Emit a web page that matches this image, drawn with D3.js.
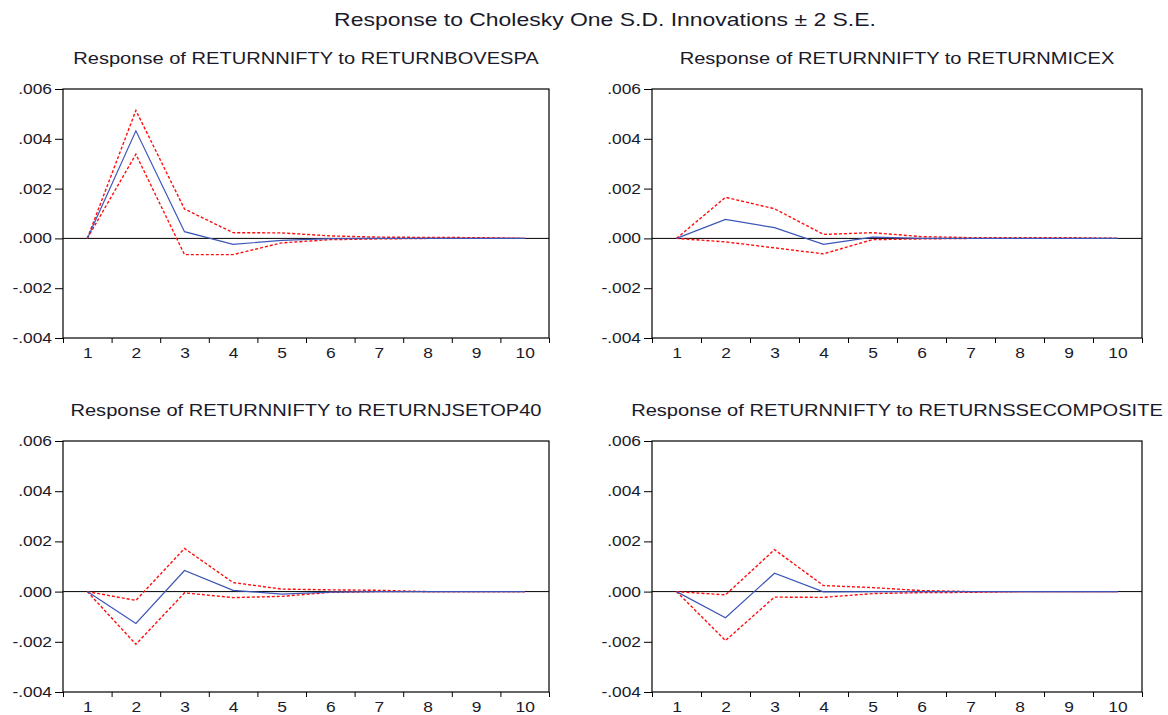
<!DOCTYPE html>
<html>
<head>
<meta charset="utf-8">
<script src="https://cdn.jsdelivr.net/npm/d3@7"></script>
<style>
  html, body { margin: 0; padding: 0; background: #fff; }
  svg { display: block; }
  text { font-family: "Liberation Sans", Arial, sans-serif; fill: #1a1a2a; }
</style>
</head>
<body>
<svg id="chart" width="1168" height="715"></svg>
<script>
// ---------- data ----------
const periods = [1, 2, 3, 4, 5, 6, 7, 8, 9, 10];
const yTicks = [-0.004, -0.002, 0, 0.002, 0.004, 0.006];

const mainTitle = "Response to Cholesky One S.D. Innovations \u00B1 2 S.E.";
const panelTitles = [
  "Response of RETURNNIFTY to RETURNBOVESPA",
  "Response of RETURNNIFTY to RETURNMICEX",
  "Response of RETURNNIFTY to RETURNJSETOP40",
  "Response of RETURNNIFTY to RETURNSSECOMPOSITE"
];

// response and +/- 2 S.E. bands
const respBOVESPA = [0, 0.00432, 0.00027, -0.00024, -0.00008, -0.00001, 0, 0, 0, 0];
const upBOVESPA   = [0, 0.00514, 0.00118, 0.00023, 0.00022, 0.00010, 0.00005, 0.00004, 0.00003, 0];
const loBOVESPA   = [0, 0.00338, -0.00065, -0.00065, -0.00018, -0.00005, -0.00002, 0, 0, 0];

const respMICEX = [0, 0.00076, 0.00043, -0.00024, 0.00005, 0, 0, 0, 0, 0];
const upMICEX   = [0, 0.00165, 0.00119, 0.00016, 0.00023, 0.00007, 0.00003, 0.00003, 0.00003, 0];
const loMICEX   = [0, -0.00014, -0.00038, -0.00062, -0.00005, -0.00002, 0, 0, 0, 0];

const respJSE = [0, -0.00127, 0.00084, 0.00005, -0.00010, -0.00002, 0, 0, 0, 0];
const upJSE   = [0, -0.00035, 0.00172, 0.00036, 0.00010, 0.00007, 0.00005, 0, 0, 0];
const loJSE   = [0, -0.00210, -0.00005, -0.00024, -0.00019, -0.00003, 0, 0, 0, 0];

const respSSE = [0, -0.00104, 0.00073, -0.00001, 0, 0, 0, 0, 0, 0];
const upSSE   = [0, -0.00013, 0.00167, 0.00024, 0.00016, 0.00004, 0, 0, 0, 0];
const loSSE   = [0, -0.00195, -0.00022, -0.00023, -0.00008, -0.00004, -0.00003, 0, 0, 0];

// ---------- layout ----------
const STRETCH = 1.24;
const FONT = '"Liberation Sans", Arial, sans-serif';
const svg = d3.select("#chart");

const panels = [
  { title: panelTitles[0], resp: respBOVESPA, up: upBOVESPA, lo: loBOVESPA, x0: 63,  x1: 549,  y0: 89,  y1: 338, ty: 64 },
  { title: panelTitles[1], resp: respMICEX,   up: upMICEX,   lo: loMICEX,   x0: 652, x1: 1142, y0: 89,  y1: 338, ty: 64 },
  { title: panelTitles[2], resp: respJSE,     up: upJSE,     lo: loJSE,     x0: 63,  x1: 549,  y0: 441, y1: 692, ty: 416 },
  { title: panelTitles[3], resp: respSSE,     up: upSSE,     lo: loSSE,     x0: 652, x1: 1142, y0: 441, y1: 692, ty: 416 }
];

const fmt = v => {
  if (v === 0) return ".000";
  return d3.format(".3f")(v).replace("\u2212", "-").replace("0.", ".");
};

svg.append("text")
  .attr("x", 605).attr("y", 26)
  .attr("text-anchor", "middle")
  .attr("font-size", 18.5)
  .text(mainTitle);

panels.forEach(p => {
  const g = svg.append("g");
  const x = d3.scaleLinear().domain([0.5, 10.5]).range([p.x0, p.x1]);
  const y = d3.scaleLinear().domain([-0.004, 0.006]).range([p.y1, p.y0]);

  g.append("text")
    .attr("x", (p.x0 + p.x1) / 2).attr("y", p.ty)
    .attr("text-anchor", "middle")
    .attr("font-size", 16.2)
    .text(p.title);

  // y axis
  const ya = g.append("g").attr("transform", `translate(${p.x0},0)`)
    .call(d3.axisLeft(y).tickValues(yTicks).tickSize(8).tickSizeOuter(0).tickPadding(3).tickFormat(fmt));
  ya.select(".domain").remove();
  ya.selectAll("text").attr("font-size", 14).style("font-family", FONT).attr("fill", "#1a1a2a");
  ya.selectAll("line").attr("stroke", "#000");

  // x axis boundary ticks
  const xb = g.append("g").attr("transform", `translate(0,${p.y1})`)
    .call(d3.axisBottom(x).tickValues(d3.range(0.5, 11, 1)).tickSize(5).tickSizeOuter(0).tickFormat(""));
  xb.select(".domain").remove();
  xb.selectAll("line").attr("stroke", "#000");

  // x labels
  const xl = g.append("g").attr("transform", `translate(0,${p.y1})`)
    .call(d3.axisBottom(x).tickValues(periods).tickSize(0).tickPadding(10).tickFormat(d3.format("d")));
  xl.select(".domain").remove();
  xl.selectAll("text").attr("font-size", 14).style("font-family", FONT).attr("fill", "#1a1a2a");

  // frame
  g.append("rect")
    .attr("x", p.x0).attr("y", p.y0)
    .attr("width", p.x1 - p.x0).attr("height", p.y1 - p.y0)
    .attr("fill", "none").attr("stroke", "#000").attr("stroke-width", 1.2);

  // zero line
  g.append("line")
    .attr("x1", p.x0).attr("x2", p.x1)
    .attr("y1", y(0)).attr("y2", y(0))
    .attr("stroke", "#000").attr("stroke-width", 1);

  const line = d3.line().x((d, i) => x(periods[i])).y(d => y(d));

  g.append("path").datum(p.up).attr("d", line)
    .attr("fill", "none").attr("stroke", "#ff0d0d").attr("stroke-width", 1.4).attr("stroke-dasharray", "3,2");
  g.append("path").datum(p.lo).attr("d", line)
    .attr("fill", "none").attr("stroke", "#ff0d0d").attr("stroke-width", 1.4).attr("stroke-dasharray", "3,2");
  g.append("path").datum(p.resp).attr("d", line)
    .attr("fill", "none").attr("stroke", "#3b56b8").attr("stroke-width", 1.2);
});

// horizontal stretch of all text to mimic the reference's wide glyphs
svg.selectAll("text").each(function () {
  const len = this.getComputedTextLength();
  if (len > 0) {
    d3.select(this).attr("textLength", len * STRETCH).attr("lengthAdjust", "spacingAndGlyphs");
  }
});
</script>
</body>
</html>
